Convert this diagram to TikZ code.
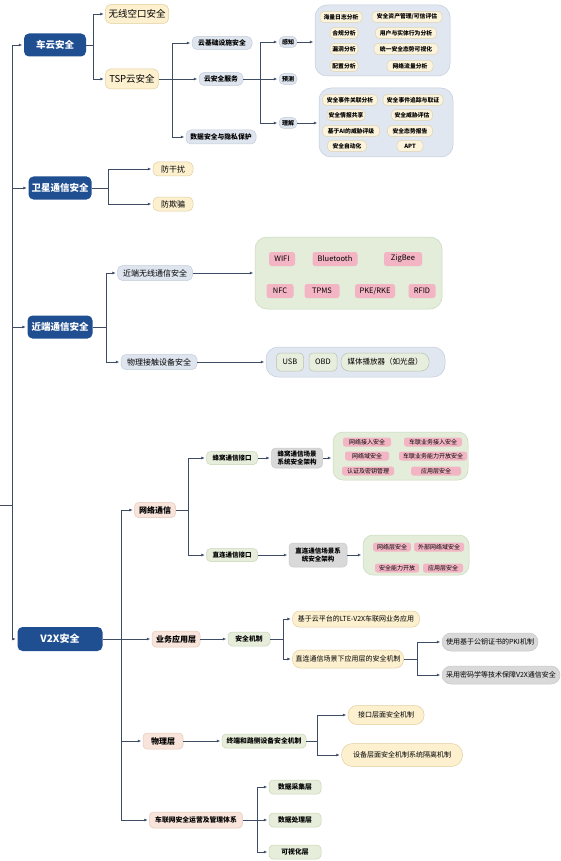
\documentclass[tikz,border=0pt]{standalone}
\usepackage{fontspec}
\setmainfont{Noto Sans CJK SC}
\usetikzlibrary{arrows.meta}
\definecolor{mainblue}{HTML}{1F4E91}
\definecolor{yelfill}{HTML}{FCF0CF}
\definecolor{yeldraw}{HTML}{E2CF9F}
\definecolor{blufill}{HTML}{DEE5EE}
\definecolor{bludraw}{HTML}{C3CDDA}
\definecolor{grnfill}{HTML}{E6EEDB}
\definecolor{grndraw}{HTML}{C8D5B7}
\definecolor{pchfill}{HTML}{F8E4DA}
\definecolor{pchdraw}{HTML}{E5C8B9}
\definecolor{gryfill}{HTML}{D9D9D9}
\definecolor{grydraw}{HTML}{C8C8C8}
\definecolor{pnkfill}{HTML}{F3B5C4}
\definecolor{cgfill}{HTML}{E3EDDA}
\definecolor{cgdraw}{HTML}{CBD8BC}
\definecolor{cbfill}{HTML}{E0E7F0}
\definecolor{cbdraw}{HTML}{C2CDDB}
\definecolor{itfill}{HTML}{FBF3DC}
\definecolor{itdraw}{HTML}{DED3B3}
\definecolor{usbfill}{HTML}{E8EEDD}
\definecolor{usbdraw}{HTML}{B9C2AE}
\definecolor{linec}{HTML}{3E4C66}
\newcommand\N[6]{\node[#1,minimum width=#4pt,minimum height=#5pt] (#2) at (#3) {#6};}
\tikzset{
  base/.style={inner sep=0pt, align=center, line width=0.5pt},
  main/.style={base, fill=mainblue, text=white, rounded corners=5pt, font=\fontsize{9.5}{11}\selectfont\bfseries},
  yel/.style={base, fill=yelfill, draw=yeldraw, rounded corners=5pt},
  blu/.style={base, fill=blufill, draw=bludraw, rounded corners=5pt},
  grn/.style={base, fill=grnfill, draw=grndraw, rounded corners=4pt},
  pch/.style={base, fill=pchfill, draw=pchdraw, rounded corners=4pt},
  gry/.style={base, fill=gryfill, draw=grydraw, rounded corners=4pt},
  pnk/.style={base, fill=pnkfill, rounded corners=2.5pt},
  itm/.style={base, fill=itfill, draw=itdraw, rounded corners=4pt, font=\fontsize{5.8}{7}\selectfont\bfseries},
  usb/.style={base, fill=usbfill, draw=usbdraw, rounded corners=4pt, font=\fontsize{7.5}{9}\selectfont},
  contg/.style={base, fill=cgfill, draw=cgdraw, rounded corners=12pt},
  contb/.style={base, fill=cbfill, draw=cbdraw, rounded corners=12pt},
  f95/.style={font=\fontsize{9.5}{11}\selectfont},
  f8/.style={font=\fontsize{8}{9.5}\selectfont},
  f8b/.style={font=\fontsize{8}{9.5}\selectfont\bfseries},
  f75/.style={font=\fontsize{7.5}{9}\selectfont},
  f7/.style={font=\fontsize{7}{8.5}\selectfont},
  f68/.style={font=\fontsize{6.8}{8}\selectfont},
  f68b/.style={font=\fontsize{6.8}{8}\selectfont\bfseries},
  f65b/.style={font=\fontsize{6.5}{7.8}\selectfont\bfseries},
  f6/.style={font=\fontsize{6}{7}\selectfont},
  f6b/.style={font=\fontsize{6}{7.2}\selectfont\bfseries},
  arr/.style={draw=linec, line width=0.7pt, -{Latex[length=3.5pt,width=3pt]}, shorten >=1.5pt},
  ln/.style={draw=linec, line width=0.7pt}
}
\begin{document}
\begin{tikzpicture}[x=1pt,y=-1pt]
\useasboundingbox[fill=white] (0,0) rectangle (560,861);
% ---------- 车云安全 ----------
\N{main}{n1}{55,45}{62}{23}{车云安全}
\N{yel,f95}{a1}{137,14}{63}{19}{无线空口安全}
\N{yel,f95}{a2}{132,79}{53}{20}{TSP云安全}
\N{blu,f68b}{b1}{222,43}{60}{13}{云基础设施安全}
\N{blu,f68b}{b2}{221,79}{44}{13}{云安全服务}
\N{blu,f68b}{b3}{221,137}{70}{14}{数据安全与隐私保护}
\N{blu,f6b}{c1}{288,42}{18}{11}{感知}
\N{blu,f6b}{c2}{288,79}{18}{11}{预测}
\N{blu,f6b}{c3}{288,123}{18}{11}{理解}
\N{contb}{box1}{382.5,40.5}{135}{71}{}
\N{itm}{p1}{341,17}{42}{11}{海量日志分析}
\N{itm}{p2}{344,33}{28}{11}{合规分析}
\N{itm}{p3}{344,49}{28}{11}{漏洞分析}
\N{itm}{p4}{344,66}{28}{11}{配置分析}
\N{itm}{p5}{407,17}{70}{11}{安全资产管理/可信评估}
\N{itm}{p6}{406,33}{61}{11}{用户与实体行为分析}
\N{itm}{p7}{406,49}{64}{11}{统一安全态势可视化}
\N{itm}{p8}{410,66}{46}{11}{网络流量分析}
\N{contb}{box2}{386,122.5}{134}{69}{}
\N{itm}{q1}{350,100}{55}{11}{安全事件关联分析}
\N{itm}{q2}{413,100}{60}{11}{安全事件追踪与取证}
\N{itm}{q3}{346,115}{38}{11}{安全情报共享}
\N{itm}{q4}{412,115}{41}{11}{安全威胁评估}
\N{itm}{q5}{351,131}{57}{11}{基于AI的威胁评级}
\N{itm}{q6}{410,131}{45}{11}{安全态势报告}
\N{itm}{q7}{347,146}{39}{11}{安全自动化}
\N{itm}{q8}{410,146}{26}{11}{APT}
% ---------- 卫星 ----------
\N{main}{n2}{60,188}{63}{23}{卫星通信安全}
\N{yel,f8}{d1}{173,169}{40}{14}{防干扰}
\N{yel,f8}{d2}{173,204}{40}{14}{防欺骗}
% ---------- 近端 ----------
\N{main}{n3}{60,327}{65}{23}{近端通信安全}
\N{blu,f8}{e1}{155,273}{75}{15}{近端无线通信安全}
\N{blu,f8}{e2}{159,362}{76}{15}{物理接触设备安全}
\N{contg}{box3}{348.5,273}{187}{72}{}
\N{pnk,f75}{w1}{282,259}{26}{14}{WIFI}
\N{pnk,f75}{w2}{335,259}{45}{14}{Bluetooth}
\N{pnk,f75}{w3}{403,259}{38}{14}{ZigBee}
\N{pnk,f75}{w4}{280,291}{27}{14}{NFC}
\N{pnk,f75}{w5}{322,291}{35}{14}{TPMS}
\N{pnk,f75}{w6}{375,291}{40}{14}{PKE/RKE}
\N{pnk,f75}{w7}{422,291}{27}{14}{RFID}
\N{contb}{box4}{355.5,362}{179}{30}{}
\N{usb}{u1}{290,362}{27}{18}{USB}
\N{usb}{u2}{323,362}{28}{18}{OBD}
\N{usb,rounded corners=8pt}{u3}{385,362}{88}{18}{媒体播放器（如光盘）}
% ---------- V2X ----------
\N{main,font=\fontsize{10}{12}\selectfont\bfseries}{n4}{60,639}{85}{24}{V2X安全}
\N{pch,f8b}{f1}{155,510}{41}{15}{网络通信}
\N{grn,f65b}{g1}{232,458}{51}{13}{蜂窝通信接口}
\N{grn,f65b}{g2}{232,555}{51}{13}{直连通信接口}
\N{gry,f65b}{h1}{297,458}{51}{20}{蜂窝通信场景\\系统安全架构}
\N{gry,f65b}{h2}{318,555}{58}{24}{直连通信场景系\\统安全架构}
\N{contg,rounded corners=10pt}{box5}{400.5,456}{135}{48}{}
\N{pnk,f6}{s1}{367,442}{48}{9}{网络接入安全}
\N{pnk,f6}{s2}{433,442}{58}{9}{车联业务接入安全}
\N{pnk,f6}{s3}{367,456}{44}{9}{网络域安全}
\N{pnk,f6}{s4}{433,456}{68}{9}{车联业务能力开放安全}
\N{pnk,f6}{s5}{368,471}{52}{9}{认证及密钥管理}
\N{pnk,f6}{s6}{436,471}{50}{9}{应用层安全}
\N{contg,rounded corners=10pt}{box6}{416,555}{106}{40}{}
\N{pnk,f6}{t1}{392,547}{38}{9}{网络层安全}
\N{pnk,f6}{t2}{439,547}{50}{9}{外部网络域安全}
\N{pnk,f6}{t3}{397,568}{44}{9}{安全能力开放}
\N{pnk,f6}{t4}{443,568}{40}{9}{应用层安全}
\N{pch,f8b}{f2}{176,639}{48}{16}{业务应用层}
\N{grn,f68b}{i1}{249,639}{42}{14}{安全机制}
\N{yel,f7,rounded corners=7pt}{j1n}{356,619}{127}{16}{基于云平台的LTE-V2X车联网业务应用}
\N{yel,f7,rounded corners=8pt}{j2n}{348,659}{111}{18}{直连通信场景下应用层的安全机制}
\N{gry,f7,rounded corners=9pt}{k1}{490,642}{96}{18}{使用基于公钥证书的PKI机制}
\N{gry,f7,rounded corners=9pt}{k2}{501,675}{118}{18}{采用密码学等技术保障V2X通信安全}
\N{pch,f8b}{f3}{163,741}{40}{16}{物理层}
\N{grn,f68b}{i2}{264,741}{84}{14}{终端和路侧设备安全机制}
\N{yel,f7,rounded corners=9pt}{l1}{386,715}{76}{19}{接口层面安全机制}
\N{yel,f7,rounded corners=11pt}{l2}{402,755}{121}{23}{设备层面安全机制系统隔离机制}
\N{pch,f68b}{f4}{196,820}{93}{16}{车联网安全运营及管理体系}
\N{grn,f68b}{m1}{295,787}{52}{14}{数据采集层}
\N{grn,f68b}{m2}{295,820}{52}{14}{数据处理层}
\N{grn,f68b}{m3}{295,852}{52}{14}{可视化层}
% ---------- connectors ----------
\coordinate (r0) at (0,505);
\coordinate (r1) at (12.5,505);
\draw[ln] (r0) -- (r1);
\draw[arr] (r1) |- (n1.west);
\draw[arr] (r1) |- (n2.west);
\draw[arr] (r1) |- (n3.west);
\draw[arr] (r1) |- (n4.west);
\coordinate (j1) at (93,45);
\draw[ln] (n1.east) -- (j1);
\draw[arr] (j1) |- (a1.west);
\draw[arr] (j1) |- (a2.west);
\coordinate (j2) at (172,79);
\draw[ln] (a2.east) -- (j2);
\draw[arr] (j2) |- (b1.west);
\draw[arr] (j2) |- (b2.west);
\draw[arr] (j2) |- (b3.west);
\coordinate (j3) at (260,79);
\draw[ln] (b2.east) -- (j3);
\draw[arr] (j3) |- (c1.west);
\draw[arr] (j3) |- (c2.west);
\draw[arr] (j3) |- (c3.west);
\draw[arr] (c1.east) -- (c1.east -| box1.west);
\draw[arr] (c3.east) -- (c3.east -| box2.west);
\coordinate (j4) at (108,188);
\draw[ln] (n2.east) -- (j4);
\draw[arr] (j4) |- (d1.west);
\draw[arr] (j4) |- (d2.west);
\coordinate (j5) at (106,327);
\draw[ln] (n3.east) -- (j5);
\draw[arr] (j5) |- (e1.west);
\draw[arr] (j5) |- (e2.west);
\draw[arr] (e1.east) -- (box3.west);
\draw[arr] (e2.east) -- (box4.west);
\coordinate (v) at (121,639);
\draw[ln] (n4.east) -- (v);
\draw[arr] (v) |- (f1.west);
\draw[arr] (v) -- (f2.west);
\draw[arr] (v) |- (f3.west);
\draw[arr] (v) |- (f4.west);
\coordinate (j6) at (188,510);
\draw[ln] (f1.east) -- (j6);
\draw[arr] (j6) |- (g1.west);
\draw[arr] (j6) |- (g2.west);
\draw[arr] (g1.east) -- (h1.west);
\draw[arr] (h1.east) -- (h1.east -| box5.west);
\draw[arr] (g2.east) -- (h2.west);
\draw[arr] (h2.east) -- (box6.west);
\draw[arr] (f2.east) -- (i1.west);
\coordinate (j7) at (283,639);
\draw[ln] (i1.east) -- (j7);
\draw[arr] (j7) |- (j1n.west);
\draw[arr] (j7) |- (j2n.west);
\coordinate (j8) at (417,659);
\draw[ln] (j2n.east) -- (j8);
\draw[arr] (j8) |- (k1.west);
\draw[arr] (j8) |- (k2.west);
\draw[arr] (f3.east) -- (i2.west);
\coordinate (j9) at (317,741);
\draw[ln] (i2.east) -- (j9);
\draw[arr] (j9) |- (l1.west);
\draw[arr] (j9) |- (l2.west);
\coordinate (j10) at (257,820);
\draw[ln] (f4.east) -- (j10);
\draw[arr] (j10) |- (m1.west);
\draw[arr] (j10) |- (m2.west);
\draw[arr] (j10) |- (m3.west);
\end{tikzpicture}
\end{document}
